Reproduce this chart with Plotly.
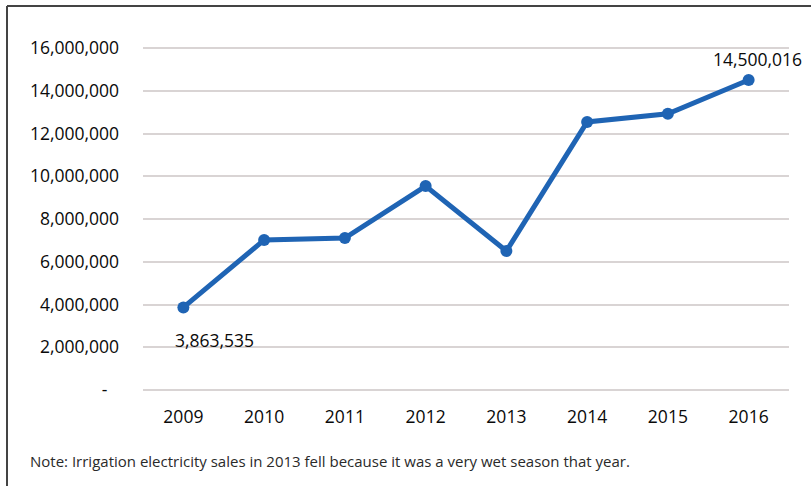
import plotly.graph_objects as go

years = ["2009", "2010", "2011", "2012", "2013", "2014", "2015", "2016"]
sales = [3863535, 7020000, 7110000, 9540000, 6500000, 12540000, 12920000, 14500016]
tick_vals = [0, 2000000, 4000000, 6000000, 8000000, 10000000, 12000000, 14000000, 16000000]
tick_text = ["-\u2002\u2009", "2,000,000", "4,000,000", "6,000,000", "8,000,000", "10,000,000",
             "12,000,000", "14,000,000", "16,000,000"]
note = "Note: Irrigation electricity sales in 2013 fell because it was a very wet season that year."

W, H = 811, 486
L, R, T, B = 143, 22, 20, 86
pw, ph = W - L - R, H - T - B

def px(x):
    return (x - L) / pw

def py(y):
    return (H - B - y) / ph

per_px = 2000000 / 42.75
ymin = -(H - B - 390) * per_px
ymax = 16000000 + (48 - T) * per_px

FONT = "Open Sans, sans-serif"
FS = 17.5

fig = go.Figure()
fig.add_trace(go.Scatter(
    x=years, y=sales, mode="lines+markers",
    line=dict(color="#1F64B4", width=5),
    marker=dict(size=12, color="#1F64B4"),
    hoverinfo="skip", showlegend=False,
))

fig.add_annotation(x=0, y=sales[0], text=f"{sales[0]:,}", showarrow=False,
                   yshift=-33, xshift=31, font=dict(size=FS, color="#0a0a0a"))
fig.add_annotation(x=len(years) - 1, y=sales[-1], text=f"{sales[-1]:,}", showarrow=False,
                   yshift=21, xshift=9, font=dict(size=FS, color="#0a0a0a"))

fig.add_annotation(xref="paper", yref="paper", x=px(28), y=py(461), xanchor="left",
                   yanchor="middle", text=note, showarrow=False,
                   font=dict(size=15, color="#2a2a2a"))

fig.add_shape(type="line", xref="paper", yref="paper", x0=px(7), x1=px(830),
              y0=py(6), y1=py(6), line=dict(color="#444", width=2))
fig.add_shape(type="line", xref="paper", yref="paper", x0=px(7), x1=px(7),
              y0=py(6), y1=py(500), line=dict(color="#444", width=2))

fig.update_layout(
    width=W, height=H,
    margin=dict(l=L, r=R, t=T, b=B),
    paper_bgcolor="white", plot_bgcolor="white",
    font=dict(family=FONT, size=FS, color="#0a0a0a"),
    xaxis=dict(type="category", range=[-0.5, 7.5], showgrid=False, showline=False,
               zeroline=False, ticks="", ticklabelstandoff=4, tickfont=dict(size=FS)),
    yaxis=dict(range=[ymin, ymax], tickvals=tick_vals, ticktext=tick_text,
               showgrid=True, gridcolor="#D9D4D4", gridwidth=1.5, zeroline=False,
               showline=False, ticks="", ticklabelstandoff=23, tickfont=dict(size=FS)),
)

fig.write_html("out.html")
